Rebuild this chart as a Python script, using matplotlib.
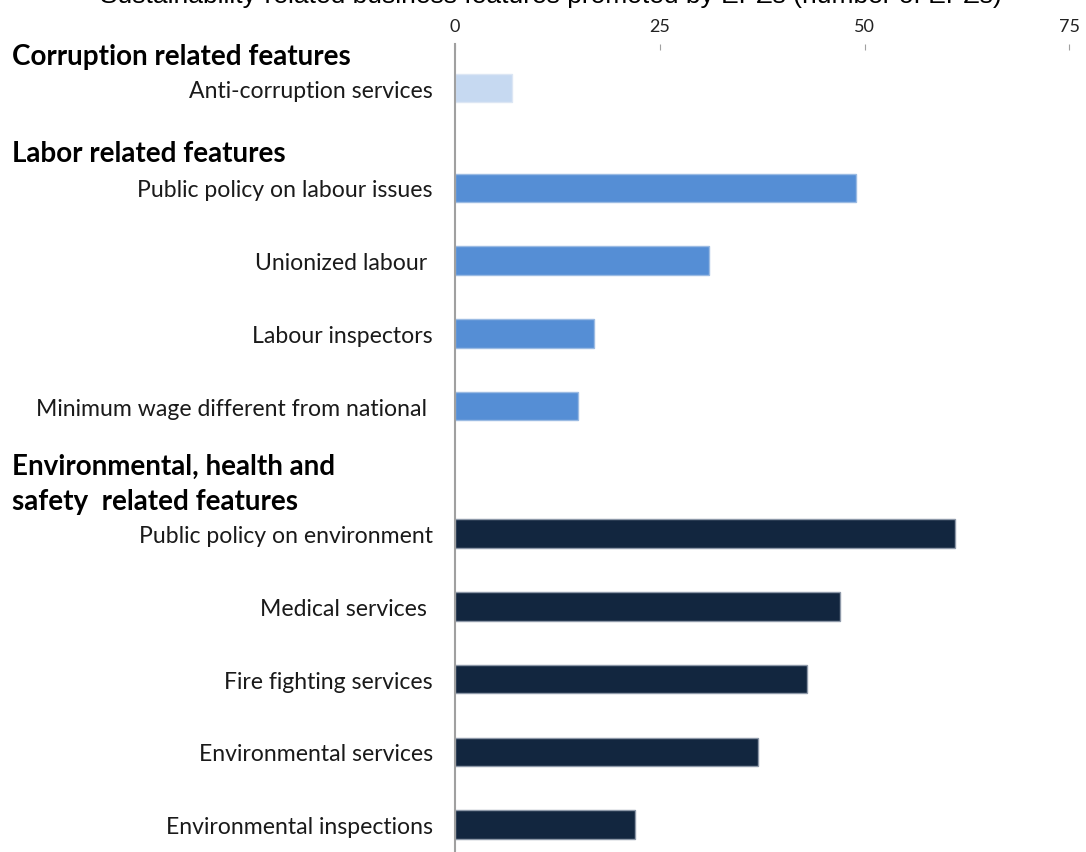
import matplotlib
matplotlib.use("Agg")
import matplotlib.pyplot as plt
import matplotlib.transforms as mtransforms

title = "Sustainability-related business features promoted by EPZs (number of EPZs)"

corruption_labels = ["Anti-corruption services"]
corruption_values = [7]

labor_labels = ["Public policy on labour issues", "Unionized labour ", "Labour inspectors",
                "Minimum wage different from national "]
labor_values = [49, 31, 17, 15]

env_labels = ["Public policy on environment", "Medical services ", "Fire fighting services",
              "Environmental services", "Environmental inspections"]
env_values = [61, 47, 43, 37, 22]

group_headers = ["Corruption related features", "Labor related features",
                 "Environmental, health and\nsafety  related features"]
xticks = [0, 25, 50, 75]

colors = ["#c6d9f1", "#558ed5", "#12263f"]
edgecolors = ["#dce6f4", "#9bbbe3", "#8d98a8"]

W, H = 1086, 853
fig = plt.figure(figsize=(W / 100, H / 100), dpi=100)

# axes geometry in pixels
ax_left, ax_right, ax_top, ax_bottom = 455, 1086, 45, 853
ax = fig.add_axes([ax_left / W, 1 - ax_bottom / H, (ax_right - ax_left) / W, (ax_bottom - ax_top) / H])

# row positions (in row units)
pos_corr = [0.0]
pos_labor = [1.375 + i * 1.0 for i in range(len(labor_labels))]
pos_env = [6.13 + i * 1.0 for i in range(len(env_labels))]
header_pos = [-0.44, 0.90, 5.44]

groups = [(corruption_labels, corruption_values, pos_corr),
          (labor_labels, labor_values, pos_labor),
          (env_labels, env_values, pos_env)]

all_pos, all_labels = [], []
for gi, (labs, vals, pos) in enumerate(groups):
    ax.barh(pos, vals, height=0.39, color=colors[gi], edgecolor=edgecolors[gi], linewidth=1.0)
    all_pos += pos
    all_labels += labs

row_px = 72.7
top_row = -(89 - ax_top) / row_px
bot_row = top_row + (ax_bottom - ax_top) / row_px
ax.set_ylim(bot_row, top_row)
ax.set_xlim(0, (ax_right - ax_left) / 8.19)

ax.set_yticks(all_pos)
ax.set_yticklabels(all_labels, fontsize=16.6, family=["Lato", "DejaVu Sans"], color="#1a1a1a")
ax.tick_params(axis="y", length=0, pad=16)

ax.xaxis.tick_top()
ax.set_xticks(xticks)
ax.set_xticklabels([str(t) for t in xticks], fontsize=13, family=["Lato", "DejaVu Sans"], color="#222222")
ax.tick_params(axis="x", direction="in", length=4, color="#a0a0a0", pad=7)

for s in ["top", "right", "bottom"]:
    ax.spines[s].set_visible(False)
ax.spines["left"].set_color("#a0a0a0")
ax.spines["left"].set_linewidth(1.5)

trans = mtransforms.blended_transform_factory(fig.transFigure, ax.transData)
for txt, yp in zip(group_headers, header_pos):
    ax.text(12 / W, yp, txt, transform=trans, fontsize=20, fontweight="bold",
            family=["Lato", "DejaVu Sans"], color="#000000", ha="left", va="center",
            linespacing=1.43, clip_on=False)

fig.text(551 / W, 1 - 3 / H, title, fontsize=19, family=["Liberation Sans", "DejaVu Sans"],
         ha="center", va="baseline", color="#000000")

fig.savefig("out.png", dpi=100, facecolor="white")
